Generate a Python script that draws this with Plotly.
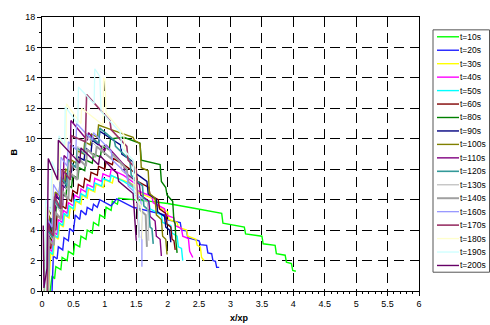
import plotly.graph_objects as go

# ---------------- data ----------------
SERIES_NAMES = ["t=10s", "t=20s", "t=30s", "t=40s", "t=50s", "t=60s", "t=80s", "t=90s",
                "t=100s", "t=110s", "t=120s", "t=130s", "t=140s", "t=160s", "t=170s",
                "t=180s", "t=190s", "t=200s"]
SERIES_COLORS = ["#00FF00", "#2020FF", "#FFFF00", "#FF00FF", "#00FFFF", "#800000", "#008000",
                 "#000080", "#808000", "#800080", "#339999", "#C0C0C0", "#A0A0A0", "#9999FF",
                 "#993366", "#FFFFCC", "#CCFFFF", "#660066"]
SERIES_WIDTHS = [1.4, 1.4, 1.4, 1.4, 1.4, 1.4, 1.4, 1.4, 1.4, 1.4, 1.6, 1.0, 2.0, 1.3, 1.6, 1.3, 1.3, 1.4]

T10_X = [0.13, 0.16, 0.2, 0.22, 0.3, 0.32, 0.4, 0.42, 0.5, 0.52, 0.6, 0.62, 0.7, 0.72, 0.8, 0.82, 0.9, 0.92,
         1.0, 1.02, 1.1, 1.12, 1.2, 1.22, 1.6, 2.0, 2.4, 2.86, 2.88, 3.22, 3.24, 3.5, 3.52, 3.71, 3.73, 3.87,
         3.89, 3.97, 3.99, 4.04]
T10_Y = [0, 1.0, 0.8, 1.6, 1.4, 2.2, 2.0, 2.6, 2.4, 3.1, 2.9, 3.6, 3.4, 4.0, 3.8, 4.5, 4.3, 5.0,
         4.8, 5.5, 5.3, 5.9, 5.7, 6.1, 5.95, 5.75, 5.45, 5.1, 4.45, 4.2, 3.75, 3.6, 3.1, 3.0, 2.45, 2.35,
         1.9, 1.8, 1.35, 1.3]

T20_X = [0.16, 0.18, 0.24, 0.26, 0.33, 0.35, 0.42, 0.44, 0.5, 0.53, 0.6, 0.62, 0.7, 0.72, 0.8, 0.82, 0.88,
         0.92, 1.1, 1.19, 1.45, 1.72, 1.95, 1.97, 2.2, 2.22, 2.3, 2.32, 2.5, 2.52, 2.62, 2.64, 2.7, 2.72,
         2.76, 2.78, 2.82]
T20_Y = [0, 2.3, 2.1, 2.9, 2.7, 3.5, 3.3, 4.1, 3.9, 5.0, 4.7, 5.3, 5.0, 5.5, 5.3, 5.7, 5.5,
         6.0, 5.6, 6.05, 5.5, 5.25, 5.0, 4.7, 4.5, 4.0, 3.95, 3.5, 3.3, 3.05, 3.0, 2.5, 2.45, 2.0,
         1.95, 1.55, 1.55]

T30_X = [0.1, 0.14, 0.18, 0.2, 0.26, 0.28, 0.34, 0.36, 0.43, 0.45, 0.52, 0.54, 0.62, 0.64, 0.72, 0.74, 0.84,
         0.86, 0.98, 1.0, 1.12, 1.14, 1.25, 1.5, 1.52, 1.8, 1.82, 2.0, 2.02, 2.15, 2.17, 2.3, 2.32, 2.45,
         2.47, 2.52, 2.54, 2.58]
T30_Y = [0, 2.5, 2.3, 3.6, 3.4, 4.4, 4.2, 5.0, 4.8, 5.5, 5.3, 5.9, 5.7, 6.3, 6.1, 6.7, 6.5,
         7.0, 6.8, 7.3, 7.1, 7.5, 7.35, 6.9, 6.5, 6.0, 5.6, 5.2, 4.7, 4.5, 4.2, 4.0, 3.6, 3.4,
         3.0, 2.9, 2.2, 2.0]

T40_X = [0.08, 0.11, 0.16, 0.18, 0.24, 0.26, 0.32, 0.34, 0.4, 0.42, 0.5, 0.52, 0.6, 0.62, 0.7, 0.72, 0.82,
         0.84, 0.95, 0.97, 1.08, 1.1, 1.3, 1.5, 1.52, 1.75, 1.77, 1.95, 1.97, 2.1, 2.12, 2.22, 2.24, 2.33,
         2.35, 2.4]
T40_Y = [0, 2.8, 2.6, 3.9, 3.7, 4.7, 4.5, 5.3, 5.1, 5.8, 5.6, 6.3, 6.1, 6.7, 6.5, 7.0, 6.8,
         7.4, 7.2, 7.7, 7.5, 8.0, 7.6, 7.0, 6.6, 6.2, 5.8, 5.4, 5.0, 4.8, 4.3, 4.1, 3.6, 3.45,
         2.6, 2.2]

T50_X = [0.09, 0.12, 0.17, 0.19, 0.25, 0.27, 0.33, 0.35, 0.41, 0.43, 0.5, 0.52, 0.6, 0.62, 0.7, 0.72, 0.82,
         0.84, 0.95, 0.97, 1.08, 1.1, 1.3, 1.45, 1.47, 1.7, 1.72, 1.9, 1.92, 2.05, 2.07, 2.15, 2.17, 2.22,
         2.24]
T50_Y = [0, 2.6, 2.4, 3.7, 3.5, 4.5, 4.3, 5.1, 4.9, 5.6, 5.4, 6.0, 5.8, 6.4, 6.2, 6.8, 6.6,
         7.1, 6.9, 7.4, 7.2, 7.6, 7.2, 6.8, 6.3, 5.9, 5.4, 5.0, 4.5, 4.3, 3.8, 3.6, 2.9, 2.8,
         2.0]

T60_X = [0.06, 0.09, 0.14, 0.16, 0.22, 0.24, 0.3, 0.32, 0.38, 0.4, 0.47, 0.49, 0.56, 0.58, 0.66, 0.68, 0.76,
         0.78, 0.88, 0.9, 1.0, 1.02, 1.12, 1.14, 1.3, 1.5, 1.52, 1.7, 1.72, 1.85, 1.87, 1.97, 1.99, 2.05,
         2.07, 2.1, 2.12]
T60_Y = [0, 3.0, 2.8, 4.2, 4.0, 5.0, 4.8, 5.6, 5.4, 6.1, 5.9, 6.6, 6.4, 7.0, 6.8, 7.4, 7.2,
         7.8, 7.6, 8.2, 8.0, 8.5, 8.3, 8.7, 8.3, 7.7, 7.2, 6.8, 6.3, 6.0, 5.4, 5.1, 4.4, 4.2,
         3.4, 3.3, 2.7]

T80_X = [0.05, 0.08, 0.13, 0.15, 0.21, 0.23, 0.29, 0.31, 0.38, 0.4, 0.47, 0.49, 0.57, 0.59, 0.68, 0.7, 0.8,
         0.82, 0.93, 0.95, 1.07, 1.09, 1.3, 1.56, 1.58, 1.88, 1.9, 1.97, 1.99, 2.08, 2.1, 2.12, 2.13, 2.15]
T80_Y = [0, 3.5, 3.3, 4.8, 4.6, 5.7, 5.5, 6.4, 6.2, 7.0, 6.8, 7.6, 7.4, 8.1, 7.9, 8.6, 8.4,
         9.0, 8.8, 9.5, 9.3, 10.0, 10.1, 9.7, 8.6, 8.3, 7.2, 6.8, 6.3, 5.9, 4.6, 4.4, 3.3, 2.5]

T90_X = [0.04, 0.07, 0.12, 0.14, 0.2, 0.22, 0.28, 0.3, 0.37, 0.39, 0.46, 0.48, 0.56, 0.58, 0.67, 0.69, 0.78,
         0.8, 0.9, 0.92, 1.1, 1.25, 1.27, 1.45, 1.47, 1.67, 1.69, 1.82, 1.84, 1.95, 1.97, 2.03, 2.05]
T90_Y = [0, 3.8, 3.6, 5.2, 5.0, 6.2, 6.0, 7.0, 6.8, 7.7, 7.5, 8.3, 8.1, 8.8, 8.6, 9.4, 9.1,
         9.9, 9.6, 10.5, 10.0, 9.6, 9.0, 8.5, 7.8, 7.2, 6.4, 6.0, 5.2, 4.9, 4.2, 4.0, 3.2]

T100_X = [0.04, 0.06, 0.11, 0.13, 0.19, 0.21, 0.27, 0.29, 0.36, 0.38, 0.45, 0.47, 0.55, 0.57, 0.66, 0.68,
          0.77, 0.79, 0.88, 0.9, 1.1, 1.45, 1.47, 1.56, 1.58, 1.69, 1.71, 1.8, 1.82, 1.9, 1.92, 1.97, 1.99]
T100_Y = [0, 4.0, 3.8, 5.5, 5.3, 6.5, 6.3, 7.3, 7.1, 8.0, 7.8, 8.6, 8.4, 9.2, 9.0, 9.8,
          9.6, 10.3, 10.1, 10.9, 10.6, 10.1, 9.9, 9.7, 8.1, 7.9, 6.4, 6.1, 5.0, 4.7, 3.6, 3.4, 2.4]

T110_X = [0.1, 0.11, 0.2, 0.22, 0.33, 0.35, 0.45, 0.46, 0.72, 0.74, 1.0, 1.02, 1.3, 1.32, 1.55, 1.57, 1.7,
          1.72, 1.8, 1.82, 1.88, 1.9]
T110_Y = [0, 4.5, 3.9, 6.4, 5.6, 8.9, 8.5, 11.2, 9.9, 10.4, 9.2, 9.6, 8.3, 7.8, 7.0, 6.3, 5.9,
          4.9, 4.6, 3.6, 3.4, 2.3]

T120_X = [0.08, 0.09, 0.17, 0.19, 0.28, 0.3, 0.4, 0.42, 0.54, 0.56, 0.68, 0.7, 0.9, 0.92, 1.15, 1.17, 1.4,
          1.42, 1.6, 1.62, 1.7, 1.72, 1.75, 1.77]
T120_Y = [0, 4.0, 3.5, 6.0, 5.4, 7.5, 6.9, 8.6, 8.1, 9.4, 9.0, 10.3, 9.7, 10.7, 9.9, 9.5, 8.6,
          7.6, 6.9, 5.6, 5.3, 4.2, 4.1, 3.1]

T130_X = [0.09, 0.1, 0.18, 0.2, 0.29, 0.31, 0.41, 0.43, 0.55, 0.57, 0.69, 0.71, 0.95, 0.97, 1.25, 1.27,
          1.5, 1.52, 1.68, 1.7]
T130_Y = [0, 3.8, 3.3, 5.8, 5.2, 7.2, 6.6, 8.5, 7.9, 9.5, 9.0, 10.1, 9.2, 9.6, 8.5, 7.9,
          7.1, 6.3, 5.8, 3.3]

T140_X = [0.1, 0.11, 0.19, 0.21, 0.3, 0.32, 0.42, 0.44, 0.56, 0.58, 0.7, 0.72, 0.85, 0.87, 1.1, 1.12,
          1.35, 1.37, 1.52, 1.54, 1.65, 1.67]
T140_Y = [0, 3.4, 3.0, 5.2, 4.7, 6.6, 6.0, 7.8, 7.3, 8.7, 8.2, 9.3, 8.8, 9.5, 8.7, 9.0,
          8.0, 7.2, 6.6, 5.4, 5.0, 2.9]

T160_X = [0.07, 0.08, 0.16, 0.18, 0.28, 0.3, 0.4, 0.42, 0.54, 0.55, 0.8, 0.82, 1.1, 1.12, 1.35, 1.37,
          1.57, 1.59, 1.59]
T160_Y = [0, 4.8, 4.2, 7.0, 6.3, 8.8, 8.2, 9.8, 9.3, 11.0, 9.9, 10.4, 9.2, 8.6, 7.7, 6.9,
          6.1, 4.8, 1.6]

T170_X = [0.08, 0.09, 0.18, 0.2, 0.3, 0.32, 0.45, 0.47, 0.69, 0.71, 1.08, 1.1, 1.35, 1.37, 1.5, 1.52, 1.55]
T170_Y = [0, 4.2, 3.6, 6.2, 5.4, 8.0, 7.3, 10.2, 9.8, 12.9, 11.2, 10.6, 9.5, 8.6, 8.0, 5.5, 3.5]

T180_X = [0.06, 0.07, 0.15, 0.17, 0.27, 0.29, 0.38, 0.39, 0.62, 0.63, 0.97, 0.98, 1.0, 1.02, 1.3, 1.32,
          1.48, 1.5, 1.58, 1.6]
T180_Y = [0, 5.5, 4.8, 8.0, 7.2, 10.0, 9.5, 12.3, 11.0, 12.0, 10.9, 14.0, 13.9, 11.7, 10.3, 9.2,
          8.4, 6.0, 5.6, 3.4]

T190_X = [0.05, 0.06, 0.14, 0.16, 0.25, 0.27, 0.36, 0.37, 0.57, 0.58, 0.83, 0.84, 0.92, 0.94, 1.25, 1.27,
          1.45, 1.47, 1.53, 1.55]
T190_Y = [0, 6.0, 5.2, 8.5, 7.6, 10.2, 9.6, 12.1, 11.0, 13.4, 12.3, 14.6, 14.1, 11.8, 10.4, 9.4,
          8.6, 6.2, 5.8, 3.2]

T200_X = [0.02, 0.03, 0.08, 0.1, 0.25, 0.26, 0.6, 0.62, 0.9, 0.92, 1.2, 1.22, 1.45, 1.47, 1.5]
T200_Y = [4.3, 0.2, 1.5, 8.7, 7.3, 9.9, 8.4, 9.4, 8.3, 8.9, 7.7, 7.2, 6.4, 4.8, 3.3]

SERIES_X = [T10_X, T20_X, T30_X, T40_X, T50_X, T60_X, T80_X, T90_X, T100_X, T110_X, T120_X,
            T130_X, T140_X, T160_X, T170_X, T180_X, T190_X, T200_X]
SERIES_Y = [T10_Y, T20_Y, T30_Y, T40_Y, T50_Y, T60_Y, T80_Y, T90_Y, T100_Y, T110_Y, T120_Y,
            T130_Y, T140_Y, T160_Y, T170_Y, T180_Y, T190_Y, T200_Y]

X_TITLE = "x/xp"
Y_TITLE = "B"

# ---------------- figure ----------------
W, H = 490, 325
L, R, T, B = 42, 71, 14, 34
PW, PH = W - L - R, H - T - B

def px_x(p):
    return (p - L) / PW

def px_y(p):
    return (H - B - p) / PH

FONT = "Liberation Sans, Arial, sans-serif"

fig = go.Figure()
for name, xs, ys, col, wd in zip(SERIES_NAMES, SERIES_X, SERIES_Y, SERIES_COLORS, SERIES_WIDTHS):
    fig.add_trace(go.Scatter(x=xs, y=ys, mode="lines", name=name,
                             line=dict(color=col, width=wd), showlegend=False))

shapes = []
annotations = []
# legend box
shapes.append(dict(type="rect", xref="paper", yref="paper",
                   x0=px_x(433), x1=px_x(489.5), y0=px_y(272), y1=px_y(27),
                   line=dict(color="#555555", width=1), fillcolor="white", layer="above"))
for i, (name, col, wd) in enumerate(zip(SERIES_NAMES, SERIES_COLORS, SERIES_WIDTHS)):
    yy = px_y(34 + i * 13.6)
    shapes.append(dict(type="line", xref="paper", yref="paper",
                       x0=px_x(437), x1=px_x(459), y0=yy, y1=yy,
                       line=dict(color=col, width=max(wd, 1.3)), layer="above"))
    annotations.append(dict(text=name, xref="paper", yref="paper", x=px_x(459), y=yy,
                            xanchor="left", yanchor="middle", showarrow=False,
                            borderpad=0, font=dict(family=FONT, size=8.5, color="black")))

annotations.append(dict(text="<b>%s</b>" % X_TITLE, xref="paper", yref="paper",
                        x=px_x(240), y=px_y(318), xanchor="center", yanchor="middle",
                        showarrow=False, font=dict(family=FONT, size=9, color="black")))
annotations.append(dict(text="<b>%s</b>" % Y_TITLE, xref="paper", yref="paper",
                        x=px_x(14), y=px_y(151), xanchor="center", yanchor="middle",
                        textangle=-90, showarrow=False,
                        font=dict(family=FONT, size=9, color="black")))

grid_common = dict(showgrid=True, gridcolor="black", gridwidth=1, griddash="10px,6px",
                   showline=True, linecolor="black", linewidth=1, mirror=True,
                   ticks="outside", ticklen=4, tickcolor="black", tickwidth=1,
                   zeroline=False, tickfont=dict(family=FONT, size=9, color="black"))

fig.update_layout(
    width=W, height=H,
    margin=dict(l=L, r=R, t=T, b=B),
    paper_bgcolor="white", plot_bgcolor="white",
    showlegend=False,
    shapes=shapes, annotations=annotations,
    xaxis=dict(range=[0, 6], dtick=0.5, tick0=0,
               minor=dict(ticks="outside", dtick=0.1, ticklen=2, tickcolor="black", showgrid=False),
               **grid_common),
    yaxis=dict(range=[0, 18], dtick=2, tick0=0,
               minor=dict(ticks="outside", dtick=1, ticklen=2, tickcolor="black", showgrid=False),
               **grid_common),
)

fig.write_html("out.html", config={"displayModeBar": False})

# remove the default page margin so the 490x325 figure fits the window exactly
with open("out.html", "r", encoding="utf-8") as f:
    html = f.read()
html = html.replace("<head>", "<head><style>html,body{margin:0;padding:0;overflow:hidden;}</style>", 1)
with open("out.html", "w", encoding="utf-8") as f:
    f.write(html)
